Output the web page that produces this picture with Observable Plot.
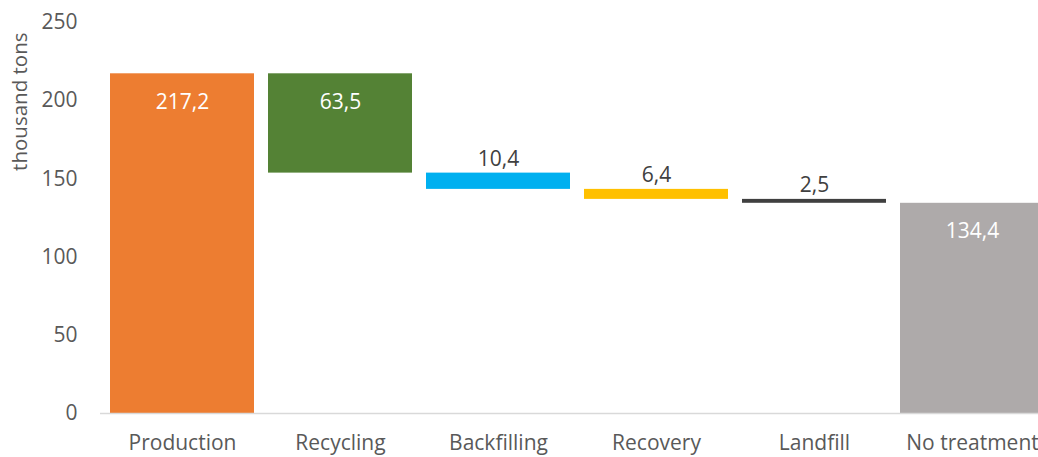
<!DOCTYPE html>
<html>
<head>
<meta charset="utf-8">
<script src="https://cdn.jsdelivr.net/npm/d3@7"></script>
<script src="https://cdn.jsdelivr.net/npm/@observablehq/plot@0.6"></script>
<style>
  html, body { margin: 0; padding: 0; background: #fff; overflow: hidden; }
  svg { overflow: hidden; }
</style>
</head>
<body>
<div id="chart"></div>
<script>
const categories = ["Production", "Recycling", "Backfilling", "Recovery", "Landfill", "No treatment"];
const values = [217.2, 63.5, 10.4, 6.4, 2.5, 134.4];
const kinds = ["total", "step", "step", "step", "step", "total"];
const valueLabels = ["217,2", "63,5", "10,4", "6,4", "2,5", "134,4"];
const barColors = ["#ED7D31", "#548235", "#00B0F0", "#FFC000", "#404040", "#AEAAAA"];
const yTicks = [0, 50, 100, 150, 200, 250];

let running = 0;
const data = categories.map((c, i) => {
  let y1, y2;
  if (kinds[i] === "total") { y1 = 0; y2 = values[i]; running = values[i]; }
  else { y2 = running; y1 = running - values[i]; running = y1; }
  return { category: c, y1, y2, value: values[i], label: valueLabels[i], color: barColors[i] };
});
const inside = data.filter(d => d.value >= 20);
const above = data.filter(d => d.value < 20);

const chart = Plot.plot({
  width: 1038,
  height: 457,
  marginTop: 22,
  marginBottom: 44,
  marginLeft: 100,
  marginRight: 0,
  style: { fontFamily: "'Open Sans', sans-serif", color: "#595959", background: "#fff" },
  x: { domain: categories, range: [101, 1053], paddingInner: 0.086, paddingOuter: 0.04, label: null },
  y: { domain: [0, 250], ticks: yTicks, label: null },
  marks: [
    Plot.barY(data, { x: "category", y1: "y1", y2: "y2", fill: "color" }),
    Plot.ruleY([0], { stroke: "#D9D9D9", strokeWidth: 1.5 }),
    Plot.axisX({ tickSize: 0, tickPadding: 22, fontSize: 21 }),
    Plot.axisY({ ticks: yTicks, tickSize: 0, tickPadding: 23, fontSize: 21, label: null }),
    Plot.text(inside, { x: "category", y: "y2", text: "label", fill: "white", fontSize: 21, dy: 28 }),
    Plot.text(above, { x: "category", y: "y2", text: "label", fill: "#404040", fontSize: 21, dy: -14 }),
    Plot.text(["thousand tons"], { frameAnchor: "top-left", rotate: -90, textAnchor: "end", dx: -88, dy: 10, fontSize: 20.5, fill: "#595959" })
  ]
});
document.getElementById("chart").appendChild(chart);
</script>
</body>
</html>
